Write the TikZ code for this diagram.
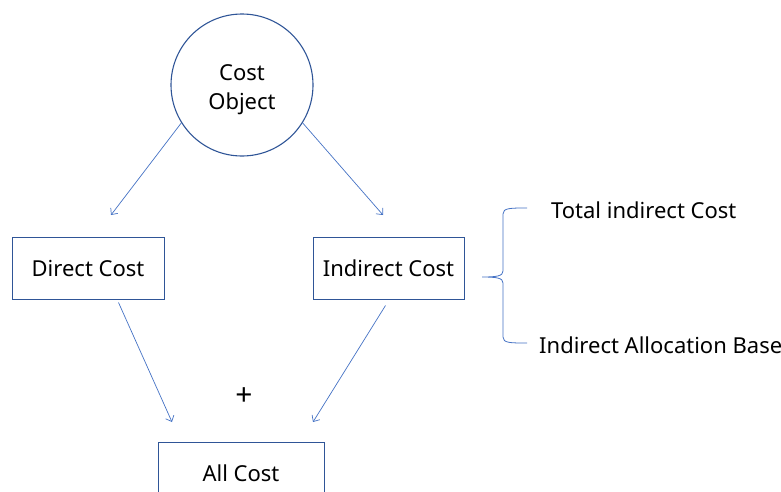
\documentclass[tikz,border=0pt]{standalone}
\usepackage{fontspec}
\setmainfont{Noto Sans}
\usetikzlibrary{positioning,arrows.meta,calc}
\definecolor{EdgeBlue}{RGB}{47,85,151}
\definecolor{LineBlue}{RGB}{68,114,196}
\tikzset{
  flow/.style={-{Straight Barb[length=5pt,width=9pt]},line width=0.7pt,draw=LineBlue},
  box/.style={draw=EdgeBlue,line width=1pt,fill=white,minimum height=62pt,
    align=center,font=\fontsize{22}{29}\selectfont,inner sep=0pt},
  objcircle/.style={circle,draw=EdgeBlue,line width=1.1pt,minimum size=142pt,
    align=center,font=\fontsize{22}{29}\selectfont,inner sep=0pt},
  label/.style={font=\fontsize{22}{29}\selectfont,inner sep=0pt,anchor=west},
  brace/.style={line width=0.8pt,draw=LineBlue}
}
\begin{document}
\begin{tikzpicture}[x=1pt,y=-1pt]
  \useasboundingbox (0,0) rectangle (781,491);
  \node[objcircle] (obj) at (242,85)
    {\raisebox{-4.5pt}[\height][\depth]{\begin{tabular}{@{}c@{}}Cost\\Object\end{tabular}}};
  \node[box,minimum width=152pt] (direct) at (88,268) {Direct Cost};
  \node[box,minimum width=151pt] (indirect) at (388.5,268) {Indirect Cost};
  \node[box,minimum width=166pt] (all) at (241,473) {All Cost};
  \node[font=\fontsize{30}{30}\selectfont,inner sep=0pt] (plus) at (244,397) {+};
  % arrow tips stop short of the boxes
  \coordinate (dtip) at (111,215);
  \coordinate (itip) at (383,215);
  \coordinate (atipl) at (172,422);
  \coordinate (atipr) at (313,422);
  \draw[flow] (obj.212) -- (dtip);
  \draw[flow] (obj.328) -- (itip);
  \draw[flow] ($(direct.south west)+(107,3)$) -- (atipl);
  \draw[flow] ($(indirect.south west)+(73,6)$) -- (atipr);
  % brace
  \coordinate (btip) at (482,277);
  \draw[brace] (527,208) .. controls (510,208) and (503,208) .. (503,214)
    -- (503,271) .. controls (503,276) and (497,277) .. (btip)
    .. controls (497,277) and (503,278) .. (503,283)
    -- (503,337) .. controls (503,343) and (510,343) .. (527,343);
  \node[label] (total) at (551,210) {Total indirect Cost};
  \node[label] (base) at (539,345) {Indirect Allocation Base};
\end{tikzpicture}
\end{document}
